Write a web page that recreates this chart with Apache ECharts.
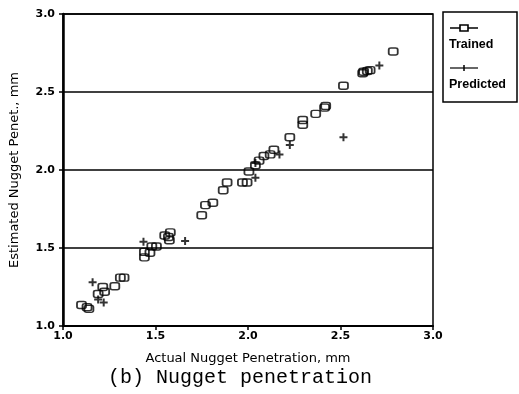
<!DOCTYPE html>
<html><head><meta charset="utf-8">
<script src="https://cdn.jsdelivr.net/npm/echarts@6/dist/echarts.min.js"></script>
<style>html,body{margin:0;padding:0;background:#fff}#c{width:519px;height:394px}</style>
</head><body><div id="c"></div>
<script>
const trainedX = [1.10,1.13,1.14,1.19,1.215,1.225,1.28,1.31,1.33,1.44,1.44,1.47,1.48,1.505,1.55,1.575,1.58,1.57,1.75,1.77,1.81,1.866,1.887,1.97,1.995,2.005,2.04,2.06,2.086,2.12,2.14,2.226,2.296,2.296,2.366,2.414,2.42,2.516,2.62,2.625,2.645,2.66,2.785];
const trainedY = [1.135,1.12,1.11,1.205,1.25,1.22,1.255,1.31,1.31,1.44,1.475,1.47,1.51,1.51,1.58,1.55,1.60,1.57,1.71,1.775,1.79,1.87,1.92,1.92,1.92,1.99,2.03,2.06,2.09,2.10,2.13,2.21,2.29,2.32,2.36,2.40,2.41,2.54,2.62,2.63,2.635,2.64,2.76];
const predX = [1.16,1.22,1.19,1.435,1.66,2.04,2.04,2.17,2.226,2.516,2.71];
const predY = [1.28,1.15,1.17,1.54,1.545,1.95,2.045,2.10,2.16,2.21,2.67];
const xTicks = [1.0,1.5,2.0,2.5,3.0];
const yTicks = [1.0,1.5,2.0,2.5,3.0];
const captionText = '(b) Nugget penetration';

const chart = echarts.init(document.getElementById('c'));
const plusPath = 'path://M3,0h2v3h3v2h-3v3h-2v-3h-3v-2h3z';
const axisFont = {color:'#000', fontFamily:'DejaVu Sans', fontWeight:'bold', fontSize:11};
const titleFont = {color:'#000', fontFamily:'DejaVu Sans', fontSize:13};
chart.setOption({
  backgroundColor:'#fff',
  animation:false,
  grid:{left:61, top:14, width:372, height:312, show:true, borderColor:'#000', borderWidth:1.5, backgroundColor:'transparent'},
  xAxis:{type:'value', min:1, max:3, interval:0.5,
    axisLine:{show:true, onZero:false, lineStyle:{color:'#000', width:2}},
    axisTick:{show:true, length:4, lineStyle:{color:'#000', width:1.5}},
    splitLine:{show:false},
    axisLabel:{...axisFont, margin:5, formatter:v=>xTicks.includes(v)?v.toFixed(1):''},
    name:'Actual Nugget Penetration, mm', nameLocation:'middle', nameGap:26,
    nameTextStyle:titleFont},
  yAxis:{type:'value', min:1, max:3, interval:0.5,
    axisLine:{show:true, onZero:false, lineStyle:{color:'#000', width:2.5}},
    axisTick:{show:true, length:4, lineStyle:{color:'#000', width:1.5}},
    splitLine:{show:true, lineStyle:{color:'#000', width:1.5}},
    axisLabel:{...axisFont, margin:8, formatter:v=>yTicks.includes(v)?v.toFixed(1):''},
    name:'Estimated Nugget Penet., mm', nameLocation:'middle', nameGap:42,
    nameTextStyle:titleFont},
  series:[
    {name:'Trained', type:'scatter', data:trainedX.map((x,i)=>[x,trainedY[i]]),
     symbol:'roundRect', symbolSize:[9,7],
     itemStyle:{color:'rgba(255,255,255,0)', borderColor:'#000', borderWidth:1.6}},
    {name:'Predicted', type:'scatter', data:predX.map((x,i)=>[x,predY[i]]),
     symbol:plusPath, symbolSize:8, itemStyle:{color:'#000'}}
  ],
  graphic:[
    {type:'rect', shape:{x:443, y:12, width:74, height:90}, style:{fill:'#fff', stroke:'#000', lineWidth:1.5}},
    {type:'line', shape:{x1:450, y1:28, x2:478, y2:28}, style:{stroke:'#000', lineWidth:1.5}},
    {type:'rect', shape:{x:460, y:25, width:8, height:6}, style:{fill:'#fff', stroke:'#000', lineWidth:1.6}},
    {type:'text', x:449, y:38, style:{text:'Trained', fill:'#000', font:'bold 12.5px "Liberation Sans", Arial'}},
    {type:'line', shape:{x1:450, y1:68, x2:478, y2:68}, style:{stroke:'#000', lineWidth:1.2}},
    {type:'line', shape:{x1:464, y1:65, x2:464, y2:71}, style:{stroke:'#000', lineWidth:1.5}},
    {type:'text', x:449, y:78, style:{text:'Predicted', fill:'#000', font:'bold 12.5px "Liberation Sans", Arial'}},
    {type:'text', x:240, y:368, style:{text:captionText, fill:'#000', textAlign:'center', font:'20px "Liberation Mono", monospace'}}
  ]
});
</script></body></html>
